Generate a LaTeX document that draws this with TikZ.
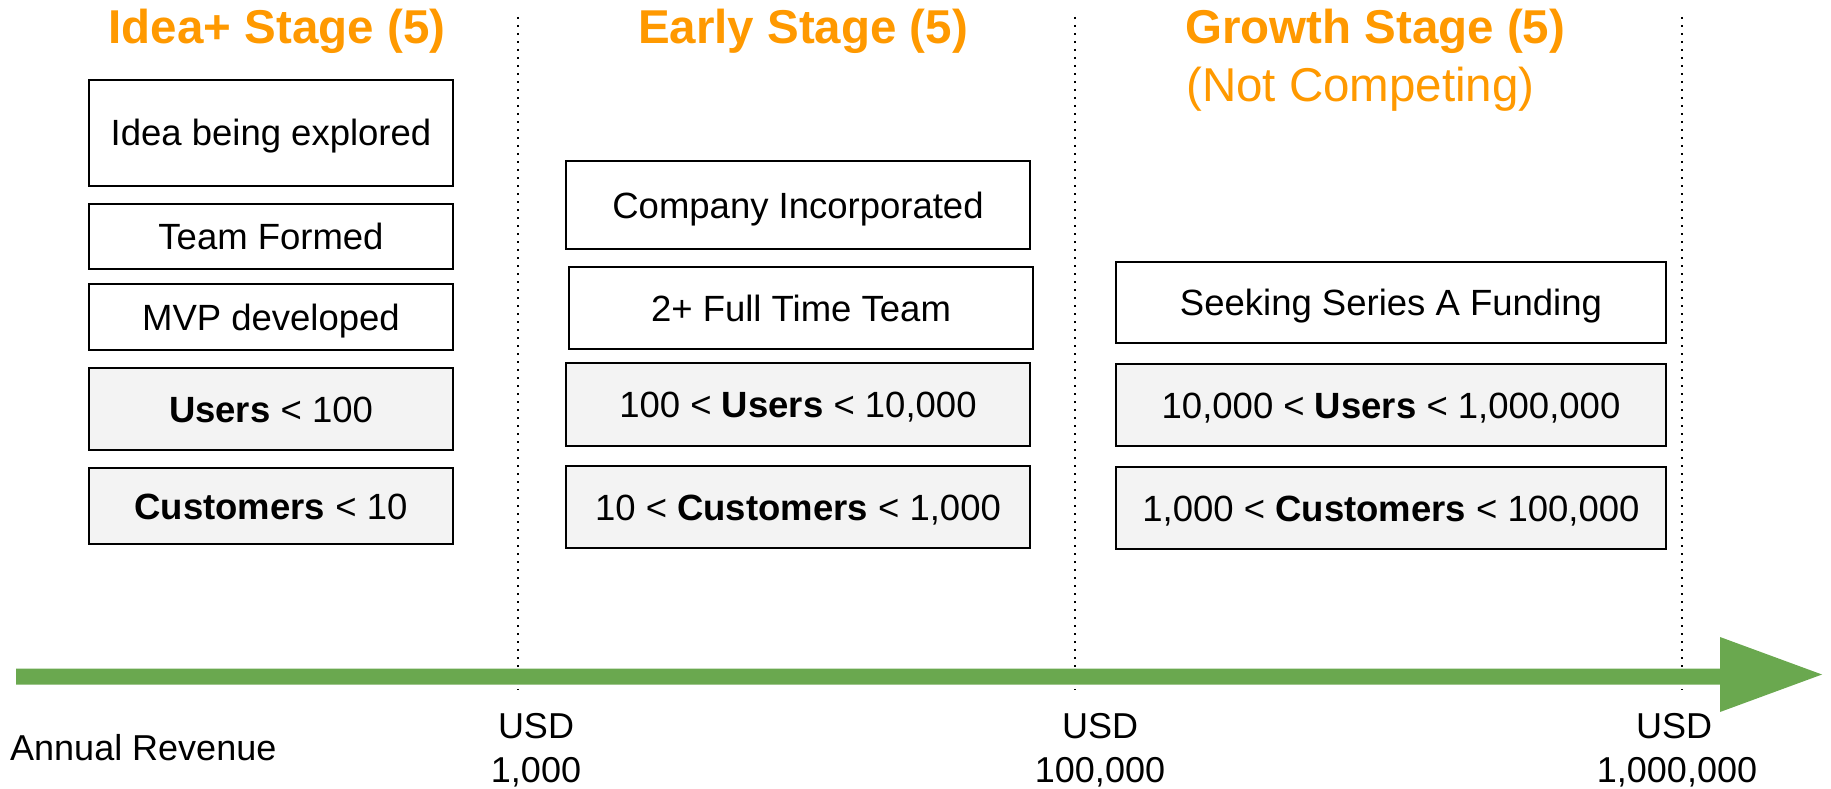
\documentclass[tikz,border=0pt]{standalone}
\usepackage{fontspec}
\setmainfont{Liberation Sans}
\usepackage{xcolor}
\usepackage{tikz}
\definecolor{stageorange}{HTML}{FF9900}
\definecolor{revgreen}{HTML}{6AA84F}
\definecolor{boxgray}{HTML}{F3F3F3}
\tikzset{stagebox/.style={draw, line width=1.8pt, inner sep=0pt, text height=26pt, text depth=0pt, font=\fontsize{36.5}{40}\selectfont}}
\tikzset{countbox/.style={stagebox, fill=boxgray}}
\tikzset{stagetitle/.style={anchor=base, inner sep=0pt, text=stageorange, font=\fontsize{47.5}{56}\selectfont\bfseries}}
\tikzset{sepline/.style={line width=2pt, dash pattern=on 2pt off 6pt}}
\tikzset{revlabel/.style={anchor=base, inner sep=0pt, font=\fontsize{36}{40}\selectfont}}

\begin{document}
\begin{tikzpicture}[x=1pt,y=-1pt]
    \useasboundingbox (0,0) rectangle (1831,789);
    % stage separators
    \foreach \x in {518,1075,1682} {
      \draw[sepline] (\x,17) -- (\x,690);
    }
    % revenue axis
    \fill[revgreen] (16,668.5) -- (1720,668.5) -- (1720,637) -- (1822,674.5)
      -- (1720,712) -- (1720,684.5) -- (16,684.5) -- cycle;
    % stage titles
    \node[stagetitle] (ititle) at (277,44) {Idea+ Stage (5)};
    \node[stagetitle] (etitle) at (803,44) {Early Stage (5)};
    \node[stagetitle, anchor=base west] (gtitle) at (1185,44) {Growth Stage (5)};
    \node[stagetitle, anchor=base west, font=\fontsize{47.5}{56}\selectfont] (gnote) at (1186,102) {(Not Competing)};
    % milestone boxes
    \foreach \x/\y/\w/\h/\lab/\tx in {
      271/133/364/106/i1/{Idea being explored},
      271/236.5/364/65/i2/{Team Formed},
      271/317/364/66/i3/{MVP developed},
      798/205/464/88/e1/{Company Incorporated},
      801/308/464/82/e2/{2+ Full Time Team},
      1391/302.5/550/81/g1/{Seeking Series A Funding}%
    } {
      \node[stagebox, minimum width=\w pt, minimum height=\h pt] (\lab) at (\x,\y) {\tx};
    }
    % user and customer counts
    \foreach \x/\y/\w/\h/\lab/\tx in {
      271/409/364/82/i4/{\textbf{Users} < 100},
      271/506/364/76/i5/{\textbf{Customers} < 10},
      798/404.5/464/83/e3/{100 < \textbf{Users} < 10,000},
      798/507/464/82/e4/{10 < \textbf{Customers} < 1,000},
      1391/405/550/82/g2/{10,000 < \textbf{Users} < 1,000,000},
      1391/508/550/82/g3/{1,000 < \textbf{Customers} < 100,000}%
    } {
      \node[countbox, minimum width=\w pt, minimum height=\h pt] (\lab) at (\x,\y) {\tx};
    }
    % revenue labels
    \node[revlabel, anchor=base west] (rev) at (10,760) {Annual Revenue};
    \foreach \x/\y/\lab/\tx in {
      536/738/u1/USD,
      536/782/v1/{1,000},
      1100/738/u2/USD,
      1100/782/v2/{100,000},
      1674/738/u3/USD,
      1677/782/v3/{1,000,000}%
    } {
      \node[revlabel] (\lab) at (\x,\y) {\tx};
    }
\end{tikzpicture}
\end{document}
